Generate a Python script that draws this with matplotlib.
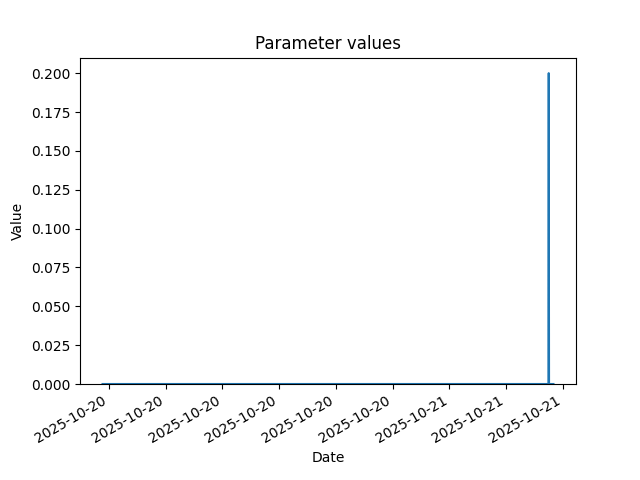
import matplotlib
matplotlib.use("Agg")
import matplotlib.pyplot as plt
import matplotlib.dates as mdates
import pandas as pd

times = ["2025-10-20 05:40", "2025-10-21 05:14", "2025-10-21 05:15",
         "2025-10-21 05:16", "2025-10-21 05:30"]
values = [0.0, 0.0, 0.2, 0.0, 0.0]

dates = pd.to_datetime(times)

fig, ax = plt.subplots(figsize=(6.4, 4.8), dpi=100)
ax.plot(dates, values)
ax.set_ylim(bottom=0)
ax.xaxis.set_major_locator(mdates.HourLocator(byhour=range(0, 24, 3)))
ax.xaxis.set_major_formatter(mdates.DateFormatter("%Y-%m-%d"))
ax.set_title("Parameter values")
ax.set_xlabel("Date")
ax.set_ylabel("Value")
fig.autofmt_xdate()
fig.savefig("out.png")
